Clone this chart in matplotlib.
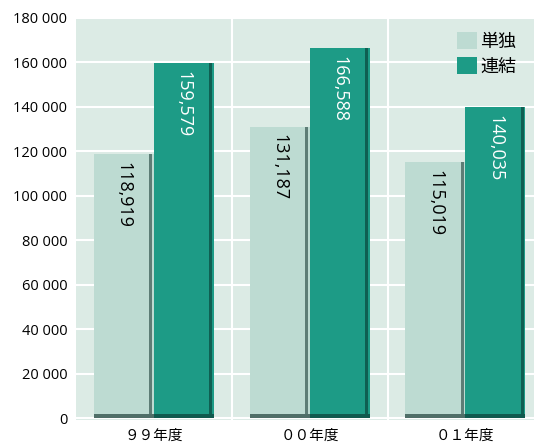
import matplotlib.pyplot as plt
import numpy as np

plt.rcParams['font.family'] = ['Noto Sans CJK JP', 'DejaVu Sans']

years = ['９９年度', '００年度', '０１年度']
tandoku = [118919, 131187, 115019]
renketsu = [159579, 166588, 140035]
yticks = [0, 20000, 40000, 60000, 80000, 100000, 120000, 140000, 160000, 180000]

light = '#bddbd2'
dark = '#1d9b86'
bg = '#dcebe5'

fig = plt.figure(figsize=(5.34, 4.44), dpi=100)
ax = fig.add_axes([0.142, 0.054, 0.858, 0.908])
ax.set_facecolor(bg)

x = np.arange(len(years))
w = 0.385
ax.bar(x - w / 2, tandoku, w, color=light, label='単独', zorder=2)
ax.bar(x + w / 2, renketsu, w, color=dark, label='連結', zorder=2)
# darker right edge and base for the shaded look
ax.bar(x - 0.02, tandoku, 0.02, color='#5d7d76', zorder=3)
ax.bar(x + w - 0.02, renketsu, 0.02, color='#0f5f52', zorder=3)
ax.bar(x - w / 2, 1800, w, color='#4f6f68', zorder=3)
ax.bar(x + w / 2, 1800, w, color='#0f5a4e', zorder=3)

for xi, v in zip(x, tandoku):
    ax.text(xi - w / 2, v - 3500, f'{v:,}', rotation=-90, ha='center', va='top',
            fontsize=13, family=['Open Sans'], color='black', zorder=4)
for xi, v in zip(x, renketsu):
    ax.text(xi + w / 2, v - 3500, f'{v:,}', rotation=-90, ha='center', va='top',
            fontsize=13, family=['Open Sans'], color='white', zorder=4)

ax.set_xlim(-0.5, 2.44)
ax.set_ylim(-800, 180500)
ax.set_yticks(yticks)
ax.set_yticklabels([f'{t:,}'.replace(',', ' ') for t in yticks], fontsize=10.5,
                   family=['Open Sans'])
ax.set_xticks(x)
ax.set_xticklabels(years, fontsize=10.5)
ax.tick_params(length=0, pad=6)
ax.grid(axis='y', color='white', linewidth=1.5, zorder=1)
for xv in [0.5, 1.5]:
    ax.axvline(xv, color='white', linewidth=1.5, zorder=1)
for s in ax.spines.values():
    s.set_visible(False)

ax.legend(loc='upper right', frameon=False, fontsize=13, handlelength=1.1,
          handleheight=1.1, handletextpad=0.2, labelspacing=0.35,
          borderaxespad=0.2, bbox_to_anchor=(0.985, 0.99))

fig.savefig('out.png', dpi=100)
